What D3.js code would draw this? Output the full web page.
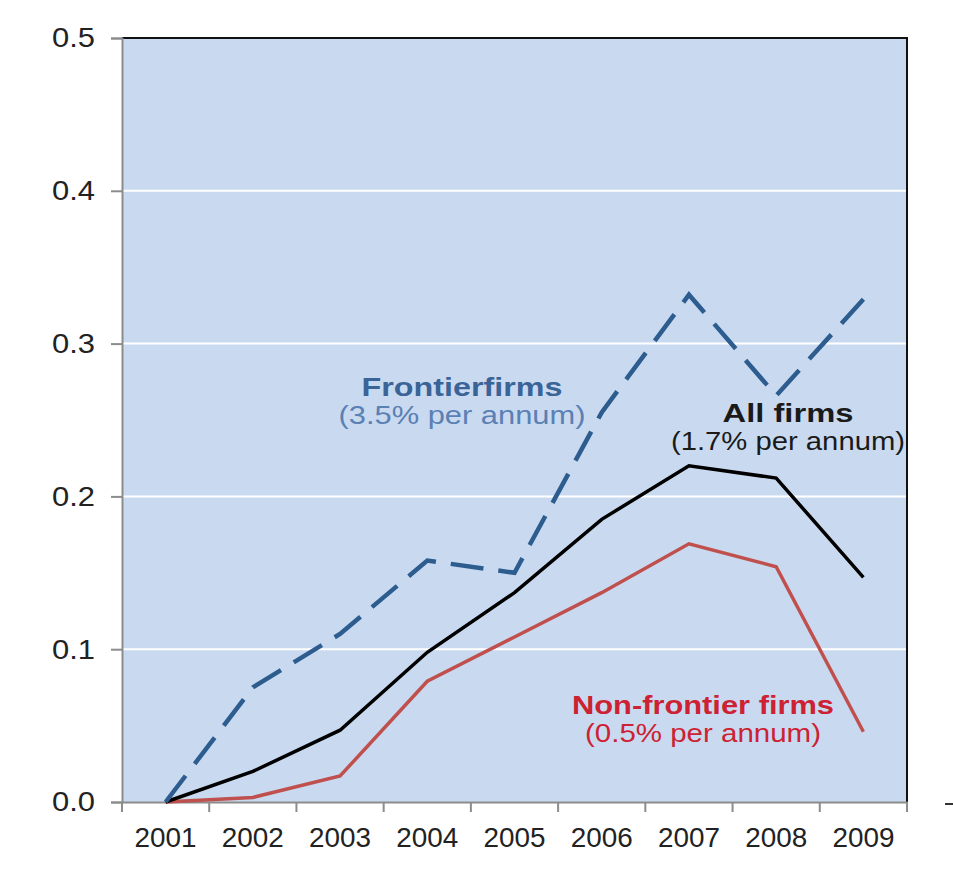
<!DOCTYPE html>
<html>
<head>
<meta charset="utf-8">
<script src="https://cdn.jsdelivr.net/npm/d3@7"></script>
<style>
  body { margin: 0; background: #fff; }
  text { font-family: "Liberation Sans", Arial, sans-serif; }
</style>
</head>
<body>
<svg id="chart" width="953" height="894"></svg>
<script>
// data
var years = ["2001", "2002", "2003", "2004", "2005", "2006", "2007", "2008", "2009"];
var frontier = [0, 0.075, 0.11, 0.158, 0.15, 0.255, 0.332, 0.266, 0.329];
var allFirms = [0, 0.02, 0.047, 0.098, 0.137, 0.185, 0.22, 0.212, 0.147];
var nonFrontier = [0, 0.003, 0.017, 0.079, 0.108, 0.137, 0.169, 0.154, 0.046];
var yTicks = [0, 0.1, 0.2, 0.3, 0.4, 0.5];

var mLeft = 122, mRight = 907, mTop = 38, mBottom = 802;

var svg = d3.select("#chart");

var x = d3.scaleBand().domain(years).range([mLeft, mRight]);
var y = d3.scaleLinear().domain([0, 0.5]).range([mBottom, mTop]);

// plot background
svg.append("rect")
  .attr("x", mLeft).attr("y", mTop)
  .attr("width", mRight - mLeft).attr("height", mBottom - mTop)
  .attr("fill", "#c9daf0");

// gridlines
svg.selectAll(".grid")
  .data(yTicks.filter(function(d){ return d > 0 && d < 0.5; }))
  .enter().append("line")
    .attr("x1", mLeft).attr("x2", mRight)
    .attr("y1", function(d){ return y(d); })
    .attr("y2", function(d){ return y(d); })
    .attr("stroke", "#fff").attr("stroke-width", 2);

// top and right border
svg.append("path")
  .attr("d", "M" + mLeft + "," + mTop + "H" + mRight + "V" + mBottom)
  .attr("fill", "none").attr("stroke", "#111").attr("stroke-width", 2);

// y axis
var yAxis = svg.append("g")
  .attr("transform", "translate(" + mLeft + ",0)")
  .call(d3.axisLeft(y).tickValues(yTicks).tickFormat(d3.format(".1f")).tickSize(11).tickPadding(16));
yAxis.select(".domain").attr("stroke", "#8c8c8c").attr("stroke-width", 2);
yAxis.selectAll(".tick line").attr("stroke", "#8c8c8c").attr("stroke-width", 2);
yAxis.selectAll("text").attr("font-size", 28).attr("fill", "#222")
  .attr("textLength", 43).attr("lengthAdjust", "spacingAndGlyphs");

// x axis
var xAxis = svg.append("g")
  .attr("transform", "translate(0," + mBottom + ")")
  .call(d3.axisBottom(x).tickSize(0).tickPadding(25));
xAxis.select(".domain").attr("stroke", "#8c8c8c").attr("stroke-width", 2);
xAxis.selectAll("text").attr("font-size", 28).attr("fill", "#222")
  .attr("textLength", 62).attr("lengthAdjust", "spacingAndGlyphs");

// x tick marks at category boundaries
var bounds = years.map(function(d){ return x(d); }).concat([mRight]);
svg.selectAll(".xtick")
  .data(bounds)
  .enter().append("line")
    .attr("x1", function(d){ return d; }).attr("x2", function(d){ return d; })
    .attr("y1", mBottom).attr("y2", mBottom + 10)
    .attr("stroke", "#8c8c8c").attr("stroke-width", 2);

// stray mark at right
svg.append("line")
  .attr("x1", 945).attr("x2", 953).attr("y1", 804).attr("y2", 804)
  .attr("stroke", "#333").attr("stroke-width", 2);

var line = d3.line()
  .x(function(d, i){ return x(years[i]) + x.bandwidth() / 2; })
  .y(function(d){ return y(d); });

svg.append("path").datum(nonFrontier)
  .attr("d", line).attr("fill", "none")
  .attr("stroke", "#c0504d").attr("stroke-width", 3.5);

svg.append("path").datum(allFirms)
  .attr("d", line).attr("fill", "none")
  .attr("stroke", "#000").attr("stroke-width", 3.5);

svg.append("path").datum(frontier)
  .attr("d", line).attr("fill", "none")
  .attr("stroke", "#2d5c8e").attr("stroke-width", 4.5)
  .attr("stroke-dasharray", "33,15");

// annotations
function label(xp, yp, t1, w1, t2, w2, c1, c2) {
  svg.append("text").attr("x", xp - w1 / 2).attr("y", yp)
    .attr("font-size", 25).attr("font-weight", "bold")
    .attr("textLength", w1).attr("lengthAdjust", "spacingAndGlyphs")
    .attr("fill", c1).text(t1);
  svg.append("text").attr("x", xp - w2 / 2).attr("y", yp + 28)
    .attr("font-size", 25)
    .attr("textLength", w2).attr("lengthAdjust", "spacingAndGlyphs")
    .attr("fill", c2).text(t2);
}
label(462, 396, "Frontierfirms", 201, "(3.5% per annum)", 247, "#3a6497", "#5b80b4");
label(788, 422, "All firms", 131, "(1.7% per annum)", 234, "#1a1a1a", "#1a1a1a");
label(703, 714, "Non-frontier firms", 262, "(0.5% per annum)", 236, "#cc2233", "#cc2233");
</script>
</body>
</html>
